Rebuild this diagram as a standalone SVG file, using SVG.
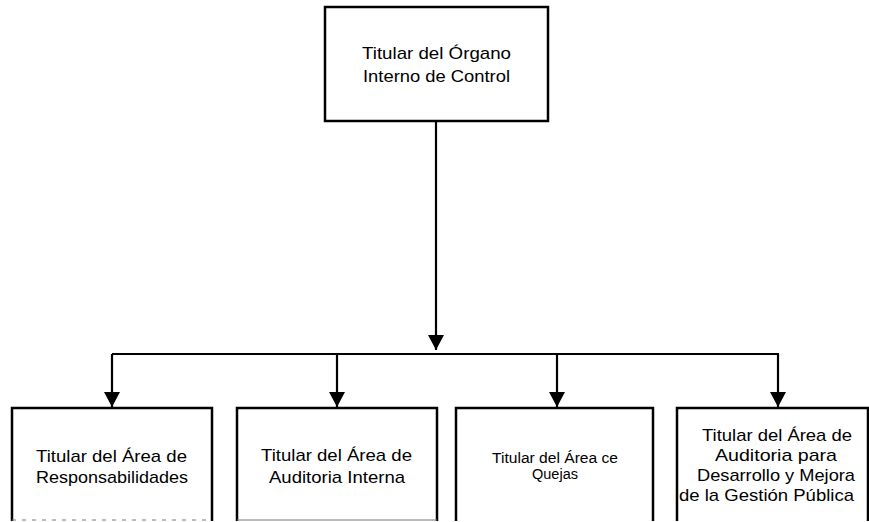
<svg xmlns="http://www.w3.org/2000/svg" width="869" height="522" viewBox="0 0 869 522">
<style>
.box{fill:#fff;stroke:#000;stroke-width:2.5}
.bot{stroke:#777;stroke-width:1;fill:none}
.t{font-family:"Liberation Sans",Arial,sans-serif;font-size:17px;fill:#000;text-anchor:middle}
.s{font-size:14px}
.c{stroke:#000;stroke-width:2.2;fill:none}
</style>
<defs>
<marker id="ah" markerUnits="userSpaceOnUse" markerWidth="15" markerHeight="16" viewBox="0 0 15 16" refX="15" refY="8" orient="auto">
<path d="M0,0 L15,8 L0,16 z" fill="#000"/>
</marker>
</defs>
<rect width="869" height="522" fill="#fff"/>
<g id="connectors">
<line class="c" x1="436" y1="121" x2="436" y2="350" marker-end="url(#ah)"/>
<line class="c" x1="112" y1="354" x2="779" y2="354"/>
<line class="c" x1="112" y1="354" x2="112" y2="407" marker-end="url(#ah)"/>
<line class="c" x1="337" y1="354" x2="337" y2="407" marker-end="url(#ah)"/>
<line class="c" x1="557" y1="354" x2="557" y2="407" marker-end="url(#ah)"/>
<line class="c" x1="778" y1="354" x2="778" y2="407" marker-end="url(#ah)"/>
</g>
<g id="titular-oic">
<rect class="box" x="325" y="7" width="223" height="114"/>
<text class="t" x="436.5" y="59" textLength="149" lengthAdjust="spacingAndGlyphs">Titular del Órgano</text>
<text class="t" x="436.5" y="82" textLength="147" lengthAdjust="spacingAndGlyphs">Interno de Control</text>
</g>
<g id="area-responsabilidades">
<path class="box" d="M12,521 V408 H212 V521"/>
<line class="bot" x1="12" y1="520" x2="212" y2="520" stroke-dasharray="4 6"/>
<text class="t" x="111.5" y="462" textLength="151" lengthAdjust="spacingAndGlyphs">Titular del Área de</text>
<text class="t" x="112" y="483" textLength="152" lengthAdjust="spacingAndGlyphs">Responsabilidades</text>
</g>
<g id="area-auditoria-interna">
<path class="box" d="M237,521 V408 H437 V521"/>
<line class="bot" x1="237" y1="520" x2="437" y2="520"/>
<text class="t" x="336.5" y="461" textLength="151" lengthAdjust="spacingAndGlyphs">Titular del Área de</text>
<text class="t" x="337" y="483" textLength="136" lengthAdjust="spacingAndGlyphs">Auditoria Interna</text>
</g>
<g id="area-quejas">
<path class="box" d="M456,521 V408 H653 V521"/>
<text class="t s" x="555" y="463" textLength="126" lengthAdjust="spacingAndGlyphs">Titular del Área ce</text>
<text class="t s" x="555" y="479" textLength="46" lengthAdjust="spacingAndGlyphs">Quejas</text>
</g>
<g id="area-auditoria-desarrollo">
<path class="box" d="M677,521 V408 H868 V521"/>
<text class="t" x="777" y="441" textLength="150" lengthAdjust="spacingAndGlyphs">Titular del Área de</text>
<text class="t" x="776" y="461" textLength="122" lengthAdjust="spacingAndGlyphs">Auditoria para</text>
<text class="t" x="776" y="481" textLength="158" lengthAdjust="spacingAndGlyphs">Desarrollo y Mejora</text>
<text class="t" x="766.5" y="501" textLength="175" lengthAdjust="spacingAndGlyphs">de la Gestión Pública</text>
</g>
</svg>
